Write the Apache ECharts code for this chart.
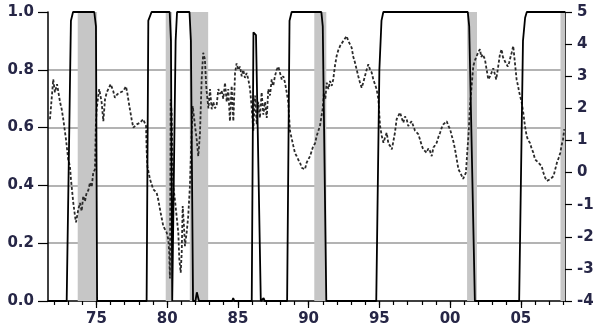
<!DOCTYPE html>
<html>
<head>
<meta charset="utf-8">
<script src="https://cdn.jsdelivr.net/npm/echarts@6/dist/echarts.min.js"></script>
<style>html,body{margin:0;padding:0;background:#fff;}#c{width:600px;height:334px;}</style>
</head>
<body>
<div id="c"></div>
<script>
// ---- data ----
const xMin = 1971.58, xMax = 2008.12;
const xTickYears = [1972,1973,1974,1975,1976,1977,1978,1979,1980,1981,1982,1983,1984,1985,1986,1987,1988,1989,1990,1991,1992,1993,1994,1995,1996,1997,1998,1999,2000,2001,2002,2003,2004,2005,2006,2007,2008];
const xLabelYears = [1975,1980,1985,1990,1995,2000,2005];
const recessionStarts = [1973.68, 1979.9, 1981.6, 1990.4, 2001.2, 2007.8];
const recessionEnds   = [1975.05, 1980.35, 1982.9, 1991.25, 2001.9, 2008.12];

// regime probability (left axis)
const solidYears = [1971.58,1972.9,1973.2,1973.35,1974.85,1974.97,1975.05,1978.55,1978.67,1978.9,1980.18,1980.27,1980.36,1980.5,1980.6,1980.7,1981.58,1981.68,1981.83,1982.0,1982.1,1982.25,1984.6,1984.67,1984.75,1985.98,1986.1,1986.28,1986.4,1986.62,1986.75,1986.82,1986.9,1988.48,1988.65,1988.8,1990.9,1991.0,1991.25,1994.78,1995.0,1995.15,1995.28,2001.25,2001.35,2001.75,2004.88,2005.15,2005.3,2005.42,2008.12];
const solidValues = [0,0,0.97,1,1,0.95,0,0,0.97,1,1,0.9,0,0,0.9,1,1,0.9,0,0,0.03,0,0,0.01,0,0,0.93,0.92,0.6,0,0,0.01,0,0,0.97,1,1,0.95,0,0,0.8,0.97,1,1,0.95,0,0,0.9,0.98,1,1];

// indicator (right axis)
const dashYears = [1971.72,1971.95,1972.07,1972.22,1972.43,1972.55,1972.66,1972.85,1973.01,1973.13,1973.2,1973.37,1973.49,1973.56,1973.72,1973.84,1973.96,1974.07,1974.19,1974.31,1974.43,1974.55,1974.67,1974.78,1974.9,1974.96,1975.02,1975.13,1975.2,1975.37,1975.49,1975.61,1975.73,1975.84,1976.01,1976.19,1976.31,1976.48,1976.67,1976.9,1977.09,1977.18,1977.33,1977.49,1977.61,1977.85,1978.08,1978.31,1978.51,1978.55,1978.6,1978.79,1979.02,1979.26,1979.37,1979.54,1979.73,1979.85,1979.97,1980.08,1980.15,1980.2,1980.25,1980.32,1980.39,1980.43,1980.55,1980.67,1980.79,1980.86,1980.96,1981.03,1981.1,1981.19,1981.26,1981.38,1981.49,1981.61,1981.73,1981.81,1981.97,1982.09,1982.2,1982.32,1982.44,1982.55,1982.67,1982.75,1982.79,1982.92,1983.03,1983.15,1983.26,1983.38,1983.5,1983.62,1983.73,1983.85,1983.97,1984.09,1984.21,1984.32,1984.44,1984.56,1984.68,1984.8,1984.91,1985.03,1985.15,1985.27,1985.38,1985.5,1985.62,1985.74,1985.86,1985.98,1986.09,1986.21,1986.33,1986.44,1986.56,1986.68,1986.8,1986.92,1987.04,1987.15,1987.27,1987.39,1987.5,1987.62,1987.74,1987.86,1987.98,1988.1,1988.21,1988.33,1988.45,1988.56,1988.68,1988.8,1988.92,1989.04,1989.16,1989.27,1989.39,1989.51,1989.62,1989.74,1989.86,1989.98,1990.1,1990.21,1990.33,1990.45,1990.57,1990.68,1990.8,1990.89,1990.99,1991.08,1991.18,1991.28,1991.4,1991.51,1991.63,1991.74,1991.86,1991.98,1992.09,1992.22,1992.34,1992.45,1992.57,1992.69,1992.8,1992.92,1993.04,1993.16,1993.28,1993.4,1993.51,1993.63,1993.75,1993.86,1993.98,1994.1,1994.22,1994.34,1994.46,1994.57,1994.69,1994.81,1994.93,1995.05,1995.17,1995.29,1995.41,1995.52,1995.64,1995.76,1995.88,1995.98,1996.1,1996.22,1996.34,1996.46,1996.58,1996.69,1996.81,1996.93,1997.04,1997.16,1997.28,1997.4,1997.52,1997.64,1997.75,1997.87,1997.99,1998.1,1998.22,1998.34,1998.46,1998.58,1998.7,1998.82,1998.94,1999.05,1999.17,1999.29,1999.41,1999.52,1999.64,1999.76,1999.88,2000.0,2000.12,2000.24,2000.35,2000.47,2000.59,2000.71,2000.83,2000.92,2000.98,2001.12,2001.21,2001.31,2001.4,2001.52,2001.64,2001.76,2001.88,2001.99,2002.11,2002.2,2002.3,2002.46,2002.58,2002.7,2002.82,2002.93,2003.05,2003.17,2003.26,2003.33,2003.43,2003.52,2003.64,2003.73,2003.8,2003.89,2003.99,2004.08,2004.17,2004.27,2004.35,2004.46,2004.58,2004.7,2004.8,2004.89,2005.06,2005.17,2005.29,2005.41,2005.52,2005.64,2005.76,2005.88,2006.0,2006.12,2006.24,2006.35,2006.47,2006.59,2006.71,2006.83,2006.95,2007.07,2007.19,2007.31,2007.43,2007.55,2007.67,2007.79,2007.88,2007.98,2008.07];
const dashValues = [1.66,2.9,2.5,2.75,2.2,1.97,1.66,1.04,0.4,0.2,-0.2,-0.95,-1.36,-1.55,-1.15,-0.95,-1.2,-0.73,-0.9,-0.63,-0.55,-0.31,-0.45,0.0,0.1,1.45,1.97,2.38,2.6,2.19,1.6,2.28,2.49,2.6,2.75,2.54,2.33,2.44,2.49,2.54,2.68,2.49,2.07,1.66,1.4,1.5,1.55,1.66,1.45,0.72,0.2,-0.21,-0.52,-0.63,-0.84,-1.25,-1.67,-1.77,-1.87,-2.08,-2.5,-3.3,2.28,1.87,0.2,-0.42,-0.84,-1.36,-1.87,-2.7,-3.12,-2.5,-1.04,-1.67,-2.29,-1.87,-1.36,-0.42,1.24,2.07,1.45,1.03,0.51,1.2,2.9,3.73,3.53,2.8,2.54,2.0,2.6,1.97,2.2,2.0,2.1,2.6,2.45,2.55,2.3,2.8,2.2,2.6,1.6,2.7,1.6,3.1,3.4,3.2,3.3,3.0,3.2,2.95,3.1,2.9,2.6,2.0,1.3,2.4,1.5,2.2,1.7,2.5,1.8,2.2,1.7,2.6,2.4,2.9,2.7,3.0,3.2,3.3,3.1,2.9,3.0,2.8,2.5,2.2,1.3,1.24,0.83,0.6,0.51,0.4,0.31,0.15,0.2,0.1,0.31,0.25,0.51,0.45,0.83,0.9,1.14,1.1,1.45,1.4,1.97,2.49,2.3,2.8,2.6,2.85,2.7,2.9,3.32,3.63,3.8,3.94,3.9,4.1,4.15,4.25,4.1,4.0,3.89,3.6,3.42,3.2,3.0,2.8,2.64,2.8,3.0,3.2,3.37,3.21,3.11,2.9,2.75,2.59,2.28,1.45,1.14,0.93,1.1,1.24,0.9,0.83,0.72,0.95,1.24,1.66,1.7,1.87,1.7,1.55,1.75,1.66,1.45,1.5,1.6,1.55,1.3,1.35,1.2,1.03,0.85,0.72,0.7,0.62,0.75,0.67,0.51,0.78,0.85,0.93,1.1,1.24,1.4,1.5,1.55,1.6,1.45,1.35,1.14,0.95,0.72,0.41,0.1,0.0,-0.11,-0.2,-0.26,0.0,0.62,1.24,2.07,2.7,3.32,3.5,3.63,3.75,3.84,3.6,3.68,3.53,3.21,2.9,3.0,3.11,3.25,3.21,2.9,3.1,3.4,3.68,3.84,3.6,3.53,3.45,3.42,3.3,3.42,3.6,3.73,3.94,3.42,2.9,2.7,2.49,2.18,1.87,1.45,1.14,1.0,0.93,0.75,0.62,0.41,0.35,0.31,0.25,0.2,0.0,-0.15,-0.26,-0.2,-0.21,-0.15,-0.11,0.1,0.31,0.45,0.62,0.85,1.03,1.35];

// ---- chart ----
const labelFont = {fontFamily: 'DejaVu Sans', fontWeight: 'bold', fontSize: 15, color: '#262646'};
const solidData = solidYears.map((y, i) => [y, solidValues[i]]);
const dashData = dashYears.map((y, i) => [y, dashValues[i]]);
const bands = recessionStarts.map((s, i) => [{xAxis: s}, {xAxis: recessionEnds[i]}]);

const chart = echarts.init(document.getElementById('c'), null, {renderer: 'canvas'});
chart.setOption({
  animation: false,
  backgroundColor: '#fff',
  grid: {left: 48, right: 35, top: 12, bottom: 33, containLabel: false},
  xAxis: [{
    type: 'value', min: xMin, max: xMax, position: 'bottom',
    axisLine: {show: true, onZero: false, lineStyle: {color: '#000', width: 1.5}},
    axisTick: {show: true, customValues: xTickYears, length: 4, lineStyle: {color: '#000', width: 1.2}},
    axisLabel: {show: false},
    splitLine: {show: false}
  }, {
    type: 'value', min: xMin, max: xMax, position: 'bottom', offset: 0,
    axisLine: {show: false, onZero: false},
    axisTick: {show: true, customValues: xLabelYears, length: 7, lineStyle: {color: '#000', width: 1.2}},
    axisLabel: Object.assign({show: true, customValues: xLabelYears, margin: 11,
      formatter: v => String(Math.round(v) % 100).padStart(2, '0')}, labelFont),
    splitLine: {show: false}
  }],
  yAxis: [{
    type: 'value', min: 0, max: 1, interval: 0.2, position: 'left',
    axisLine: {show: true, lineStyle: {color: '#000', width: 1.5}},
    axisTick: {show: true, length: 10, lineStyle: {color: '#000', width: 1.2}},
    axisLabel: Object.assign({margin: 14, formatter: v => v.toFixed(1)}, labelFont),
    splitLine: {show: true, showMinLine: false, showMaxLine: false, lineStyle: {color: '#9a9a9a', width: 1.5}}
  }, {
    type: 'value', min: -4, max: 5, interval: 1, position: 'right',
    axisLine: {show: true, lineStyle: {color: '#000', width: 1.5}},
    axisTick: {show: true, length: 7, lineStyle: {color: '#000', width: 1.2}},
    axisLabel: Object.assign({margin: 12}, labelFont),
    splitLine: {show: false}
  }],
  series: [{
    type: 'line', xAxisIndex: 0, yAxisIndex: 0, data: [], z: 1, silent: true,
    markArea: {silent: true, itemStyle: {color: '#c6c6c6'}, data: bands}
  }, {
    name: 'indicator', type: 'line', xAxisIndex: 0, yAxisIndex: 1, data: dashData,
    showSymbol: false, z: 3,
    lineStyle: {color: '#2a2a2a', width: 1.8, type: [3, 2]}
  }, {
    name: 'probability', type: 'line', xAxisIndex: 0, yAxisIndex: 0, data: solidData,
    showSymbol: false, z: 4,
    lineStyle: {color: '#000', width: 1.8}
  }]
});
</script>
</body>
</html>
